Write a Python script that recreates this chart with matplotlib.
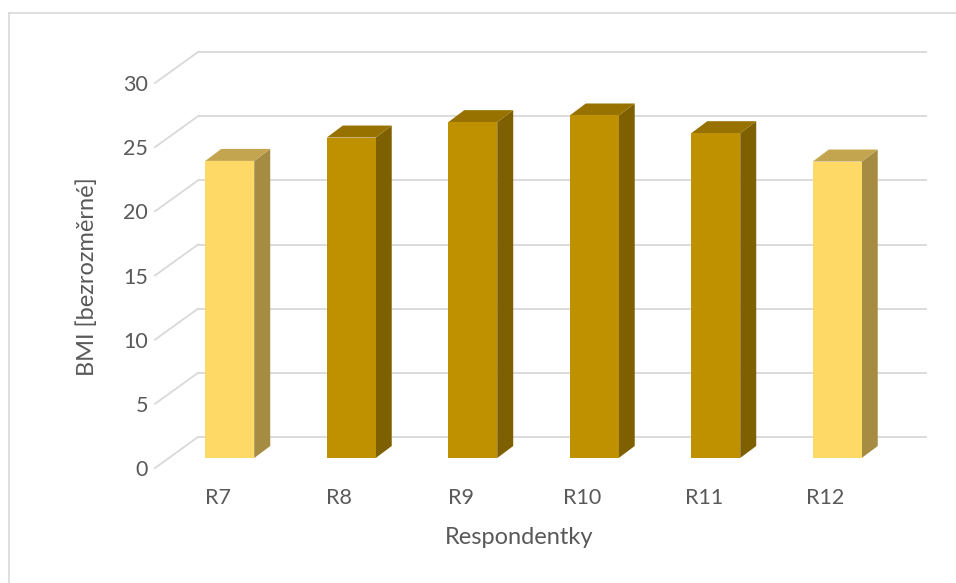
import matplotlib
matplotlib.use("Agg")
import matplotlib.pyplot as plt
from matplotlib.patches import Polygon
import matplotlib.transforms as mtransforms

# data
respondentky = ["R7", "R8", "R9", "R10", "R11", "R12"]
bmi = [23.15, 24.97, 26.17, 26.69, 25.31, 23.1]
svetle = [True, False, False, False, False, True]
yticks = [0, 5, 10, 15, 20, 25, 30]

barvy_svetle = ("#FFD966", "#C2A54E", "#A68C42")   # predni, vrchni, bocni
barvy_tmave = ("#BF9000", "#987200", "#7F6000")

plt.rcParams["font.family"] = ["Lato", "DejaVu Sans"]
sedy_text = "#595959"

W, H = 956, 583
fig = plt.figure(figsize=(W / 100, H / 100), dpi=100)

# osa v rovine prednich sten sloupcu
left, right, bottom, top = 169, 898, 458, 73
ax = fig.add_axes([left / W, 1 - bottom / H, (right - left) / W, (bottom - top) / H])
ax.set_xlim(-0.5, len(respondentky) - 0.5)
ax.set_ylim(0, 30)
ax.axis("off")

px_x = (right - left) / len(respondentky)   # pixelu na kategorii
px_y = (bottom - top) / 30.0                # pixelu na jednotku


def posun(dx, dy):
    return ax.transData + mtransforms.ScaledTranslation(dx / 100, dy / 100, fig.dpi_scale_trans)


zadni = posun(29, 21)
predni = posun(-14, -10)

# mrizka na zadni stene + sikme cary vlevo
for v in yticks:
    ax.plot([-0.5, len(respondentky) - 0.5], [v, v], color="#D9D9D9", lw=1.3,
            transform=zadni, zorder=1, solid_capstyle="butt", clip_on=False)
    p1 = predni.transform((-0.5, v))
    p2 = zadni.transform((-0.5, v))
    fig.add_artist(plt.Line2D([p1[0] / W, p2[0] / W], [p1[1] / H, p2[1] / H],
                              color="#D9D9D9", lw=1.3, zorder=1))
    ax.text(-0.5, v, str(v), transform=posun(-21, -12), ha="right", va="center",
            fontsize=15.5, color=sedy_text)

# sloupce
sirka = 0.403
hx = 16 / px_x
hy = 12 / px_y
for i, (v, sv) in enumerate(zip(bmi, svetle)):
    f, t, s = barvy_svetle if sv else barvy_tmave
    x0, x1 = i - sirka / 2, i + sirka / 2
    ax.add_patch(Polygon([(x1, 0), (x1 + hx, hy), (x1 + hx, v + hy), (x1, v)],
                         closed=True, facecolor=s, edgecolor="none", zorder=3, clip_on=False))
    ax.add_patch(Polygon([(x0, v), (x0 + hx, v + hy), (x1 + hx, v + hy), (x1, v)],
                         closed=True, facecolor=t, edgecolor="none", zorder=3, clip_on=False))
    ax.bar(i, v, width=sirka, color=f, edgecolor="none", zorder=4)
    ax.text(i, 0, respondentky[i], transform=posun(-12, -40), ha="center", va="center",
            fontsize=15.5, color=sedy_text)

ax.text(2.5, 0, "Respondentky", transform=posun(-14, -79), ha="center", va="center",
        fontsize=17, color=sedy_text)
fig.text(87 / W, 1 - 277 / H, "BMI [bezrozměrné]", rotation=90, ha="center", va="center",
         fontsize=17, color=sedy_text)

# ramecek grafu
fig.add_artist(plt.Line2D([9 / W, 1], [1 - 13 / H, 1 - 13 / H], color="#D9D9D9", lw=1.2))
fig.add_artist(plt.Line2D([9 / W, 9 / W], [0, 1 - 13 / H], color="#D9D9D9", lw=1.2))

fig.savefig("out.png", dpi=100)
